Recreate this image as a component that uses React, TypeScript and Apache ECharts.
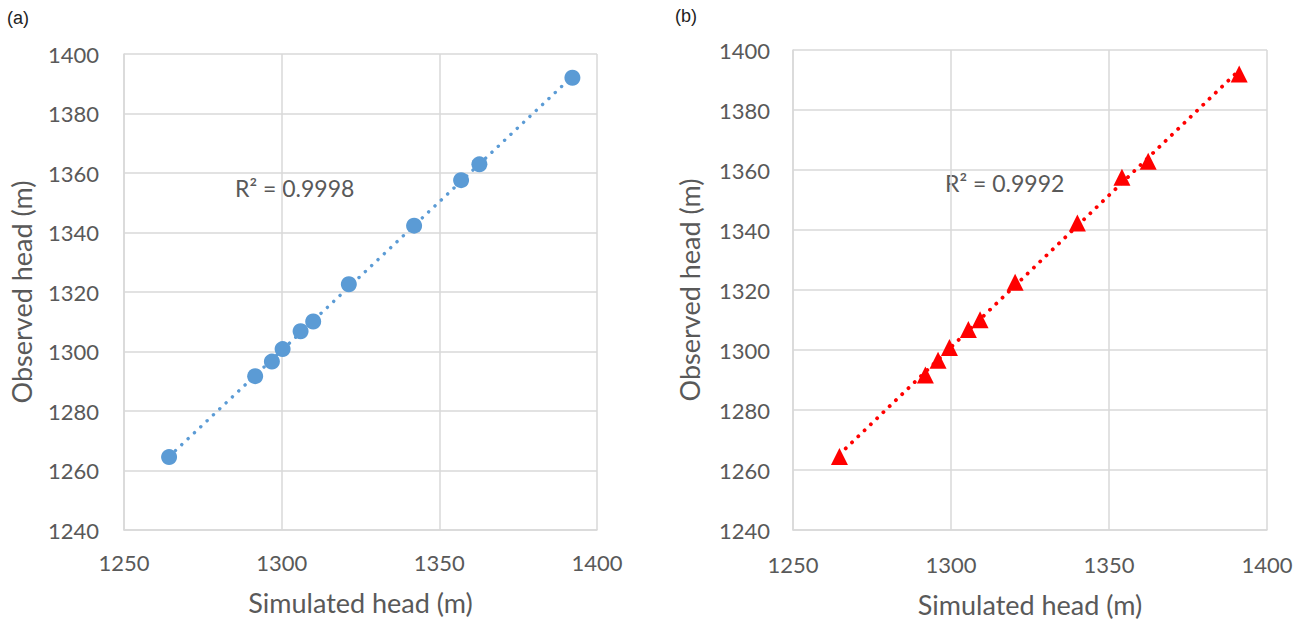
import React, { useEffect, useRef } from "react";
import * as echarts from "echarts";

// Observed head (m), same wells in both panels
const observed = [1264.5, 1291.7, 1296.6, 1300.8, 1306.8, 1310.1, 1322.6, 1342.3, 1357.6, 1362.9, 1392.0];
// Simulated head (m), panel (a)
const simulatedA = [1264.3, 1291.6, 1296.9, 1300.3, 1306.0, 1310.0, 1321.3, 1342.0, 1356.9, 1362.7, 1392.2];
// Simulated head (m), panel (b)
const simulatedB = [1264.7, 1291.9, 1295.9, 1299.5, 1305.5, 1309.2, 1320.3, 1340.0, 1354.1, 1362.4, 1391.2];

const panelLabels = ["(a)", "(b)"];
const r2Labels = ["R² = 0.9998", "R² = 0.9992"];
const xTitle = "Simulated head (m)";
const yTitle = "Observed head (m)";
const xRange = [1250, 1400, 50];
const yRange = [1240, 1400, 20];

function trend(xs: number[], ys: number[]) {
  const n = xs.length;
  const mx = xs.reduce((a, b) => a + b, 0) / n;
  const my = ys.reduce((a, b) => a + b, 0) / n;
  let sxy = 0, sxx = 0;
  for (let i = 0; i < n; i++) {
    sxy += (xs[i] - mx) * (ys[i] - my);
    sxx += (xs[i] - mx) * (xs[i] - mx);
  }
  const b = sxy / sxx;
  const a = my - b * mx;
  const x0 = Math.min(...xs), x1 = Math.max(...xs);
  return [[x0, a + b * x0], [x1, a + b * x1]];
}

const TXT = "#595959";
const GRID = "#d9d9d9";
const FONT = "Lato, 'Open Sans', sans-serif";

export default function App() {
  const ref = useRef<HTMLDivElement>(null);
  useEffect(() => {
    document.body.style.margin = "0";
    const chart = echarts.init(ref.current!, undefined, { renderer: "svg" });
    const mkX = (gi: number, gap: number, margin: number) => ({
      type: "value", gridIndex: gi, min: xRange[0], max: xRange[1], interval: xRange[2],
      name: xTitle, nameLocation: "middle", nameGap: gap,
      nameTextStyle: { color: TXT, fontSize: 27, fontFamily: FONT },
      axisLine: { show: true, lineStyle: { color: GRID, width: 1.5 } },
      axisTick: { show: false },
      axisLabel: { color: TXT, fontSize: 22, fontFamily: FONT, margin, formatter: (v: number) => String(v) },
      splitLine: { show: true, lineStyle: { color: GRID, width: 1.5 } },
    });
    const mkY = (gi: number, gap: number, margin: number) => ({
      type: "value", gridIndex: gi, min: yRange[0], max: yRange[1], interval: yRange[2],
      name: yTitle, nameLocation: "middle", nameGap: gap,
      nameTextStyle: { color: TXT, fontSize: 27, fontFamily: FONT },
      axisLine: { show: true, lineStyle: { color: GRID, width: 1.5 } },
      axisTick: { show: false },
      axisLabel: { color: TXT, fontSize: 22, fontFamily: FONT, margin, formatter: (v: number) => String(v) },
      splitLine: { show: true, lineStyle: { color: GRID, width: 1.5 } },
    });
    const ptsA = simulatedA.map((x, i) => [x, observed[i]]);
    const ptsB = simulatedB.map((x, i) => [x, observed[i]]);
    chart.setOption({
      animation: false,
      backgroundColor: "#ffffff",
      grid: [
        { left: 124, top: 54, width: 473, height: 476 },
        { left: 793, top: 50, width: 474, height: 482 },
      ],
      xAxis: [mkX(0, 59, 21), mkX(1, 61, 23)],
      yAxis: [mkY(0, 89, 25), mkY(1, 90, 23)],
      series: [
        {
          type: "line", xAxisIndex: 0, yAxisIndex: 0, data: trend(simulatedA, observed),
          symbol: "none", z: 1,
          lineStyle: { color: "#5b9bd5", width: 3.4, type: [0.1, 8.6], cap: "round" },
        },
        {
          type: "scatter", xAxisIndex: 0, yAxisIndex: 0, data: ptsA, z: 2,
          symbol: "circle", symbolSize: 16, itemStyle: { color: "#5b9bd5", opacity: 1 },
        },
        {
          type: "line", xAxisIndex: 1, yAxisIndex: 1, data: trend(simulatedB, observed),
          symbol: "none", z: 1,
          lineStyle: { color: "#ff0000", width: 3.8, type: [0.1, 8.6], cap: "round" },
        },
        {
          type: "scatter", xAxisIndex: 1, yAxisIndex: 1, data: ptsB, z: 2,
          symbol: "triangle", symbolSize: 17, itemStyle: { color: "#ff0000", opacity: 1 },
        },
      ],
      graphic: [
        { type: "text", left: 7, top: 9, style: { text: panelLabels[0], fill: "#222", font: "18px 'Liberation Sans', Arial, sans-serif" } },
        { type: "text", left: 675, top: 7, style: { text: panelLabels[1], fill: "#222", font: "18px 'Liberation Sans', Arial, sans-serif" } },
        { type: "text", x: 235, y: 188, style: { text: r2Labels[0], fill: TXT, font: `23px ${FONT}`, textVerticalAlign: "middle" } },
        { type: "text", x: 945, y: 183, style: { text: r2Labels[1], fill: TXT, font: `23px ${FONT}`, textVerticalAlign: "middle" } },
      ],
    });
    return () => chart.dispose();
  }, []);
  return <div ref={ref} style={{ width: 1299, height: 623 }} />;
}
